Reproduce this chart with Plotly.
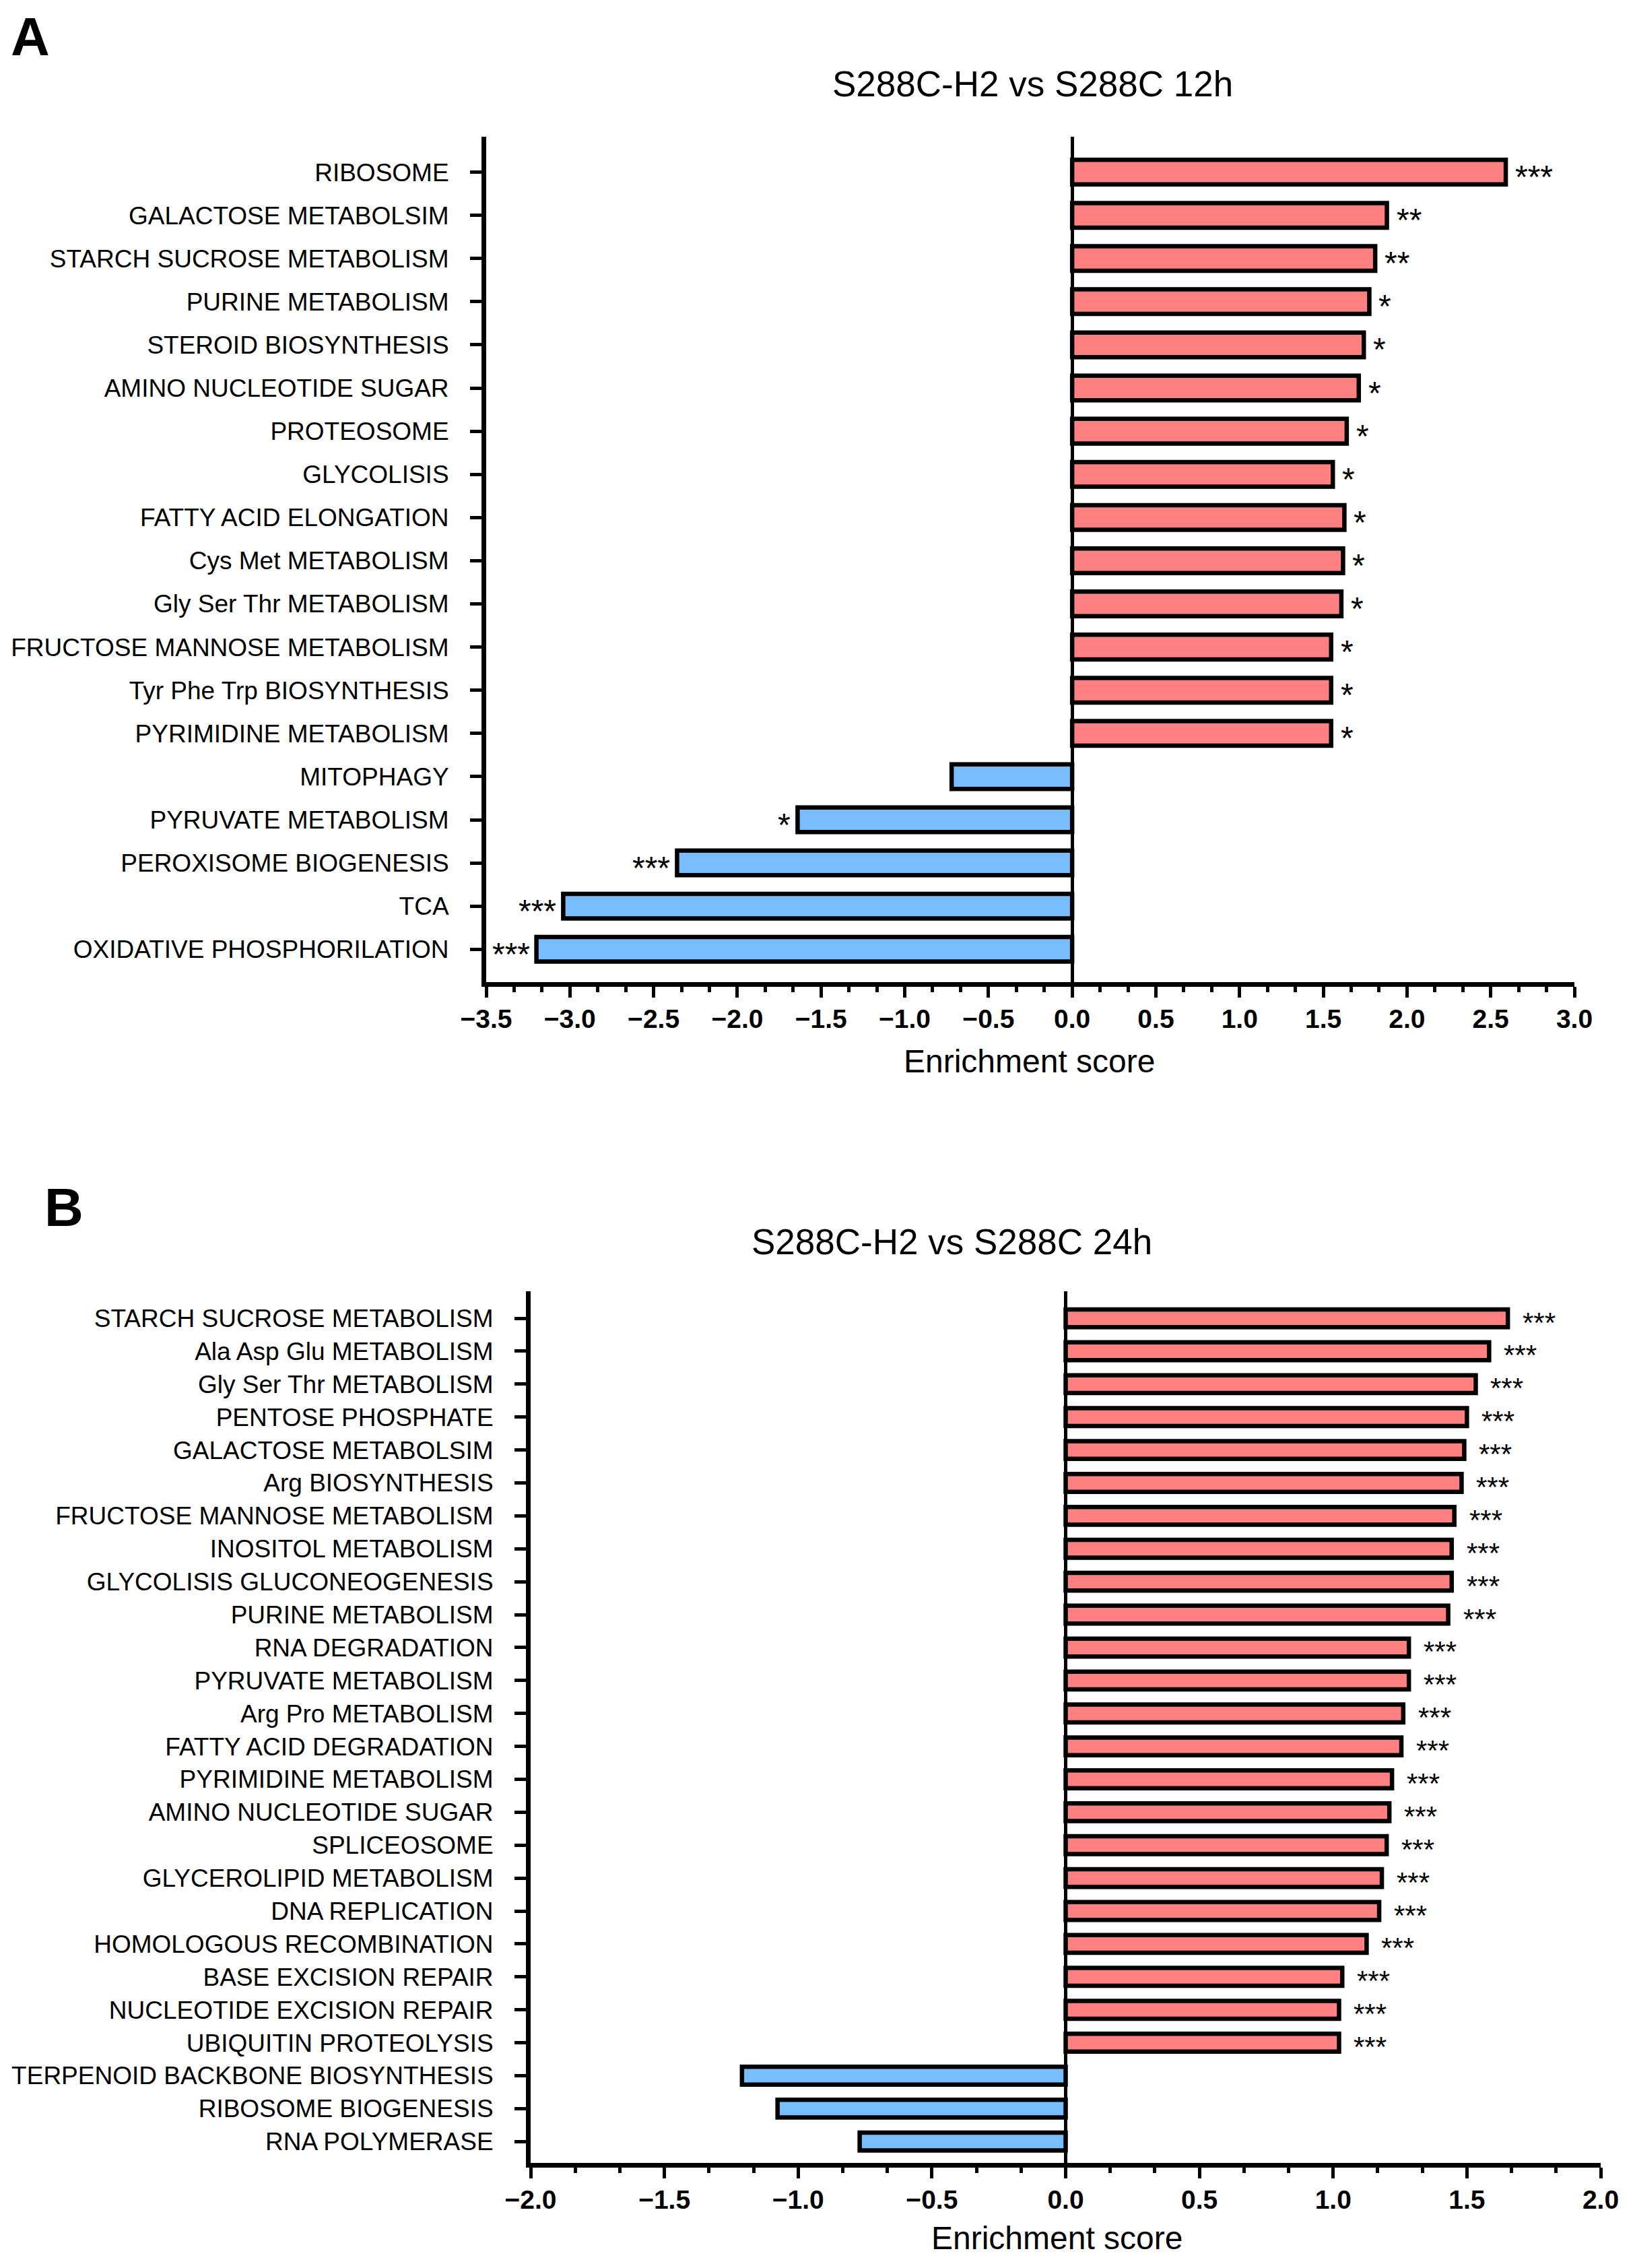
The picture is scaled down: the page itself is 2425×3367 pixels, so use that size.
import plotly.graph_objects as go

# ---------------- Panel A data ----------------
cats_a = ["RIBOSOME", "GALACTOSE METABOLSIM", "STARCH SUCROSE METABOLISM", "PURINE METABOLISM",
          "STEROID BIOSYNTHESIS", "AMINO NUCLEOTIDE SUGAR", "PROTEOSOME", "GLYCOLISIS",
          "FATTY ACID ELONGATION", "Cys Met METABOLISM", "Gly Ser Thr METABOLISM",
          "FRUCTOSE MANNOSE METABOLISM", "Tyr Phe Trp BIOSYNTHESIS", "PYRIMIDINE METABOLISM",
          "MITOPHAGY", "PYRUVATE METABOLISM", "PEROXISOME BIOGENESIS", "TCA",
          "OXIDATIVE PHOSPHORILATION"]
vals_a = [2.59, 1.88, 1.81, 1.775, 1.742, 1.712, 1.64, 1.557, 1.626, 1.618, 1.608,
          1.547, 1.547, 1.547, -0.72, -1.64, -2.36, -3.04, -3.20]
sig_a = ["***", "**", "**", "*", "*", "*", "*", "*", "*", "*", "*", "*", "*", "*",
         "", "*", "***", "***", "***"]

# ---------------- Panel B data ----------------
cats_b = ["STARCH SUCROSE METABOLISM", "Ala Asp Glu METABOLISM", "Gly Ser Thr METABOLISM",
          "PENTOSE PHOSPHATE", "GALACTOSE METABOLSIM", "Arg BIOSYNTHESIS",
          "FRUCTOSE MANNOSE METABOLISM", "INOSITOL METABOLISM", "GLYCOLISIS GLUCONEOGENESIS",
          "PURINE METABOLISM", "RNA DEGRADATION", "PYRUVATE METABOLISM", "Arg Pro METABOLISM",
          "FATTY ACID DEGRADATION", "PYRIMIDINE METABOLISM", "AMINO NUCLEOTIDE SUGAR",
          "SPLICEOSOME", "GLYCEROLIPID METABOLISM", "DNA REPLICATION",
          "HOMOLOGOUS RECOMBINATION", "BASE EXCISION REPAIR", "NUCLEOTIDE EXCISION REPAIR",
          "UBIQUITIN PROTEOLYSIS", "TERPENOID BACKBONE BIOSYNTHESIS", "RIBOSOME BIOGENESIS",
          "RNA POLYMERASE"]
vals_b = [1.653, 1.583, 1.533, 1.50, 1.49, 1.48, 1.453, 1.443, 1.443, 1.43, 1.283, 1.283,
          1.262, 1.255, 1.22, 1.21, 1.20, 1.182, 1.172, 1.125, 1.034, 1.022, 1.022,
          -1.21, -1.077, -0.77]
sig_b = ["***"] * 23 + ["", "", ""]

title_a = "S288C-H2 vs S288C 12h"
title_b = "S288C-H2 vs S288C 24h"
xlabel = "Enrichment score"

RED = "#FF8080"
BLUE = "#78BEFF"
FONT = "Arial, 'Liberation Sans', Helvetica, sans-serif"
PAGE_W, PAGE_H = 2425, 3367
OFF = 8                      # default page body margin
W, H = PAGE_W - 2 * OFF, PAGE_H - 2 * OFF


def colors(vals):
    return [RED if v >= 0 else BLUE for v in vals]


fig = go.Figure()
fig.add_trace(go.Bar(x=vals_a, y=cats_a, orientation="h", width=0.57,
                     marker=dict(color=colors(vals_a), line=dict(color="black", width=6.5)),
                     xaxis="x", yaxis="y", showlegend=False, hoverinfo="x+y"))
fig.add_trace(go.Bar(x=vals_b, y=cats_b, orientation="h", width=0.54,
                     marker=dict(color=colors(vals_b), line=dict(color="black", width=6.5)),
                     xaxis="x2", yaxis="y2", showlegend=False, hoverinfo="x+y"))


def px_x(p):
    return (p - OFF) / W


def px_y(p):
    return 1 - (p - OFF) / H


common_x = dict(showline=True, linecolor="black", linewidth=7, ticks="outside", ticklen=16,
                tickwidth=5, tickcolor="black", dtick=0.5, tick0=0, tickformat=".1f",
                showgrid=False, zeroline=True, zerolinecolor="black", zerolinewidth=5,
                tickfont=dict(family=FONT, size=39, color="black", weight="bold"),
                minor=dict(dtick=0.5 / 3, tick0=0, ticks="outside", ticklen=8, tickwidth=5,
                           tickcolor="black", showgrid=False),
                ticklabelstandoff=-2, fixedrange=True, automargin=False)
common_y = dict(showline=True, linecolor="black", linewidth=7, ticks="outside", ticklen=17,
                tickwidth=5, tickcolor="black", showgrid=False, zeroline=False,
                tickfont=dict(family=FONT, size=37, color="black"),
                ticklabelstandoff=24, type="category", fixedrange=True, automargin=False)

fig.update_layout(
    template="none",
    width=W, height=H, margin=dict(l=0, r=0, t=0, b=0, autoexpand=False),
    paper_bgcolor="white", plot_bgcolor="white",
    font=dict(family=FONT, color="black"),
    xaxis=dict(domain=[px_x(722), px_x(2338)], range=[-3.5, 3.0], anchor="y", **common_x),
    yaxis=dict(domain=[px_y(1458), px_y(203)], range=[18.76, -0.82], anchor="x", **common_y),
    xaxis2=dict(domain=[px_x(788), px_x(2377)], range=[-2.0, 2.0], anchor="y2", **common_x),
    yaxis2=dict(domain=[px_y(3211), px_y(1917)], range=[25.65, -0.82], anchor="x2", **common_y),
)

ann = []
# significance stars
for c, v, s in zip(cats_a, vals_a, sig_a):
    if s:
        ann.append(dict(x=v, y=c, xref="x", yref="y", text=s, showarrow=False,
                        xanchor="left" if v >= 0 else "right", yanchor="middle",
                        xshift=12 if v >= 0 else -8, yshift=-7,
                        font=dict(family=FONT, size=48, color="black")))
for c, v, s in zip(cats_b, vals_b, sig_b):
    if s:
        ann.append(dict(x=v, y=c, xref="x2", yref="y2", text=s, showarrow=False,
                        xanchor="left" if v >= 0 else "right", yanchor="middle",
                        xshift=20 if v >= 0 else -8, yshift=-6,
                        font=dict(family=FONT, size=42, color="black")))

ann += [
    dict(x=px_x(1533), y=px_y(125), xref="paper", yref="paper", text=title_a, showarrow=False,
         xanchor="center", yanchor="middle", font=dict(family=FONT, size=53, color="black")),
    dict(x=px_x(1413), y=px_y(1843), xref="paper", yref="paper", text=title_b, showarrow=False,
         xanchor="center", yanchor="middle", font=dict(family=FONT, size=53, color="black")),
    dict(x=px_x(1528), y=px_y(1575), xref="paper", yref="paper", text=xlabel, showarrow=False,
         xanchor="center", yanchor="middle", font=dict(family=FONT, size=48, color="black")),
    dict(x=px_x(1569), y=px_y(3322), xref="paper", yref="paper", text=xlabel, showarrow=False,
         xanchor="center", yanchor="middle", font=dict(family=FONT, size=48, color="black")),
    dict(x=px_x(14), y=1.0, xref="paper", yref="paper", text="<b>A</b>", showarrow=False,
         xanchor="left", yanchor="top", font=dict(family=FONT, size=80, color="black")),
    dict(x=px_x(64), y=px_y(1792), xref="paper", yref="paper", text="<b>B</b>", showarrow=False,
         xanchor="left", yanchor="middle", font=dict(family=FONT, size=80, color="black")),
]
fig.update_layout(annotations=ann)

fig.write_html("out.html")
